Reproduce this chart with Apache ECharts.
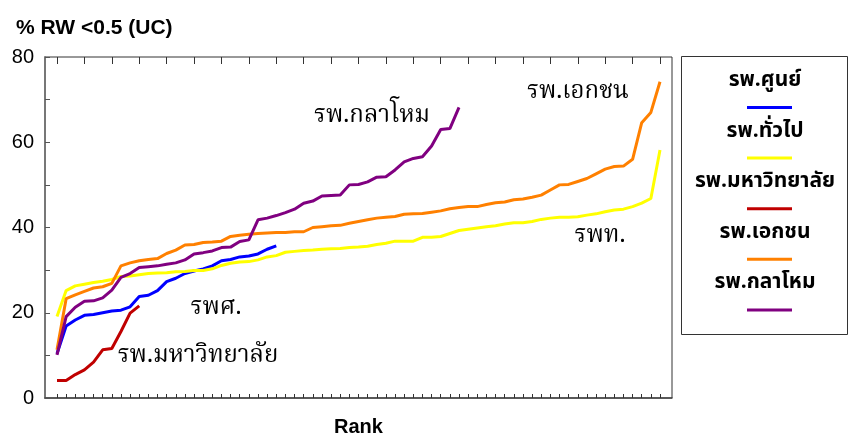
<!DOCTYPE html>
<html>
<head>
<meta charset="utf-8">
<script src="https://cdn.jsdelivr.net/npm/echarts@6/dist/echarts.min.js"></script>
<style>
  html, body { margin: 0; padding: 0; background: #fff; }
  #chart { width: 849px; height: 435px; }
</style>
</head>
<body>
<div id="chart"></div>
<script>
// Rank positions along the x axis
const ranks = Array.from({ length: 67 }, (_, i) => String(i + 1));

// % RW < 0.5 per hospital, sorted ascending within each group
const centerHosp = [10.4, 16.9, 18.3, 19.4, 19.6, 20.0, 20.4, 20.6, 21.4, 23.8,
  24.1, 25.2, 27.3, 28.1, 29.2, 29.8, 30.3, 31.0, 32.2, 32.5,
  33.1, 33.3, 33.8, 34.9, 35.7];
const generalHosp = [19.1, 25.2, 26.3, 26.7, 27.1, 27.4, 27.8, 28.5, 28.6, 28.9,
  29.2, 29.3, 29.4, 29.6, 29.7, 29.9, 29.9, 30.3, 31.1, 31.6,
  31.9, 32.0, 32.4, 33.1, 33.4, 34.2, 34.4, 34.6, 34.7, 34.9,
  35.0, 35.1, 35.3, 35.4, 35.6, 36.0, 36.3, 36.8, 36.8, 36.8,
  37.7, 37.7, 37.9, 38.6, 39.3, 39.6, 39.9, 40.2, 40.4, 40.8,
  41.1, 41.1, 41.4, 41.9, 42.2, 42.4, 42.4, 42.5, 42.9, 43.2,
  43.7, 44.1, 44.3, 44.9, 45.7, 46.8, 58.2];
const universityHosp = [4.1, 4.1, 5.5, 6.6, 8.4, 11.3, 11.6, 15.6, 19.9, 21.6];
const privateHosp = [11.3, 23.3, 24.2, 25.0, 25.8, 26.1, 26.9, 31.0, 31.7, 32.2,
  32.5, 32.7, 33.9, 34.7, 35.9, 36.0, 36.5, 36.6, 36.8, 37.9,
  38.2, 38.4, 38.6, 38.7, 38.8, 38.8, 39.0, 39.0, 40.0, 40.2,
  40.4, 40.5, 41.0, 41.4, 41.8, 42.2, 42.4, 42.6, 43.1, 43.2,
  43.3, 43.6, 43.9, 44.4, 44.7, 44.9, 44.9, 45.4, 45.8, 46.0,
  46.5, 46.7, 47.1, 47.6, 48.8, 50.0, 50.1, 50.8, 51.5, 52.6,
  53.7, 54.3, 54.4, 56.0, 64.6, 67.0, 74.2];
const defenceHosp = [10.1, 19.1, 21.3, 22.7, 22.8, 23.5, 25.3, 28.3, 29.2, 30.6,
  30.8, 31.0, 31.4, 31.7, 32.4, 33.8, 34.1, 34.5, 35.3, 35.4,
  36.7, 37.1, 41.8, 42.2, 42.8, 43.5, 44.3, 45.7, 46.2, 47.4,
  47.5, 47.6, 50.0, 50.1, 50.7, 51.8, 51.9, 53.5, 55.4, 56.2,
  56.6, 59.1, 63.0, 63.2, 68.2];

const seriesNames = ['รพ.ศูนย์', 'รพ.ทั่วไป', 'รพ.มหาวิทยาลัย', 'รพ.เอกชน', 'รพ.กลาโหม'];
const seriesColors = ['#0000FF', '#FFFF00', '#C00000', '#FF8000', '#800080'];
const seriesData = [centerHosp, generalHosp, universityHosp, privateHosp, defenceHosp];

const yTicks = [0, 20, 40, 60, 80];

// In-plot annotations
const noteTexts = ['รพ.กลาโหม', 'รพ.เอกชน', 'รพท.', 'รพศ.', 'รพ.มหาวิทยาลัย'];

const thaiSerif = "'Noto Serif Thai', 'Noto Sans Thai', 'Tlwg Typo', serif";
const thaiSans = "Tahoma, 'Noto Sans Thai', 'Noto Sans', sans-serif";
const latin = "'Liberation Sans', Arial, sans-serif";

const chart = echarts.init(document.getElementById('chart'), null, { renderer: 'canvas' });

// Legend box: label above a short line sample
const legendItems = [];
legendItems.push({
  type: 'rect', shape: { x: 681.5, y: 56.5, width: 166, height: 278 },
  style: { fill: '#fff', stroke: '#333', lineWidth: 1 }
});
seriesNames.forEach((name, i) => {
  legendItems.push({
    type: 'text', x: 765, y: 82 + 50.5 * i,
    style: { text: name, font: 'bold 21px ' + thaiSans, fill: '#000', align: 'center', verticalAlign: 'middle' }
  });
  legendItems.push({
    type: 'line', shape: { x1: 747, y1: 107.5 + 50.6 * i, x2: 792, y2: 107.5 + 50.6 * i },
    style: { stroke: seriesColors[i], lineWidth: 3 }
  });
});

const notePos = [[372, 118], [578, 94], [600, 238], [216, 310], [198, 358]];
const noteItems = noteTexts.map((t, i) => ({
  type: 'text', x: notePos[i][0], y: notePos[i][1],
  style: { text: t, font: '24px ' + thaiSerif, fill: '#000', align: 'center', verticalAlign: 'middle' }
}));

const option = {
  animation: false,
  backgroundColor: '#fff',
  title: {
    text: '% RW <0.5 (UC)', left: 11, top: 13,
    textStyle: { fontFamily: latin, fontWeight: 'bold', fontSize: 21, color: '#000' }
  },
  grid: [
    { left: 45, right: 177, top: 57, bottom: 37, outerBoundsMode: 'none', containLabel: false,
      show: true, borderColor: '#333', borderWidth: 1, backgroundColor: 'transparent' },
    { left: 57, right: 189, top: 57, bottom: 37, outerBoundsMode: 'none', containLabel: false }
  ],
  xAxis: [
    {
      gridIndex: 0, type: 'value', min: 0, max: 1,
      name: 'Rank', nameLocation: 'middle', nameGap: 19,
      nameTextStyle: { fontFamily: latin, fontWeight: 'bold', fontSize: 20, color: '#000' },
      axisLine: { show: true, lineStyle: { color: '#444', width: 1.5 } },
      axisTick: { show: false }, axisLabel: { show: false }, splitLine: { show: false }
    },
    {
      gridIndex: 1, type: 'category', data: ranks, boundaryGap: false,
      axisLine: { show: false }, axisLabel: { show: false }, splitLine: { show: false },
      axisTick: { show: true, inside: true, interval: 0, length: 4, lineStyle: { color: '#333', width: 1 } }
    },
    {
      gridIndex: 1, type: 'category', data: ranks, boundaryGap: false,
      axisLine: { show: false }, axisLabel: { show: false }, splitLine: { show: false },
      axisTick: { show: true, inside: true, interval: 2, length: 7, lineStyle: { color: '#333', width: 1 } }
    }
  ],
  yAxis: [
    {
      gridIndex: 0, type: 'value', min: 0, max: 80, interval: 10,
      axisLine: { show: true, lineStyle: { color: '#777', width: 2 } },
      axisTick: { show: true, inside: true, length: 5, lineStyle: { color: '#555', width: 1 } },
      axisLabel: {
        margin: 11, fontFamily: latin, fontSize: 20, color: '#000',
        formatter: v => (yTicks.indexOf(v) >= 0 ? String(v) : '')
      },
      splitLine: { show: false }
    },
    {
      gridIndex: 1, type: 'value', min: 0, max: 80, show: false
    }
  ],
  series: seriesNames.map((name, i) => ({
    name: name, type: 'line', xAxisIndex: 1, yAxisIndex: 1,
    data: seriesData[i], showSymbol: false, symbol: 'none',
    lineStyle: { color: seriesColors[i], width: 3 },
    itemStyle: { color: seriesColors[i] },
    z: 2 + i
  })),
  graphic: legendItems.concat(noteItems)
};

chart.setOption(option);
</script>
</body>
</html>
